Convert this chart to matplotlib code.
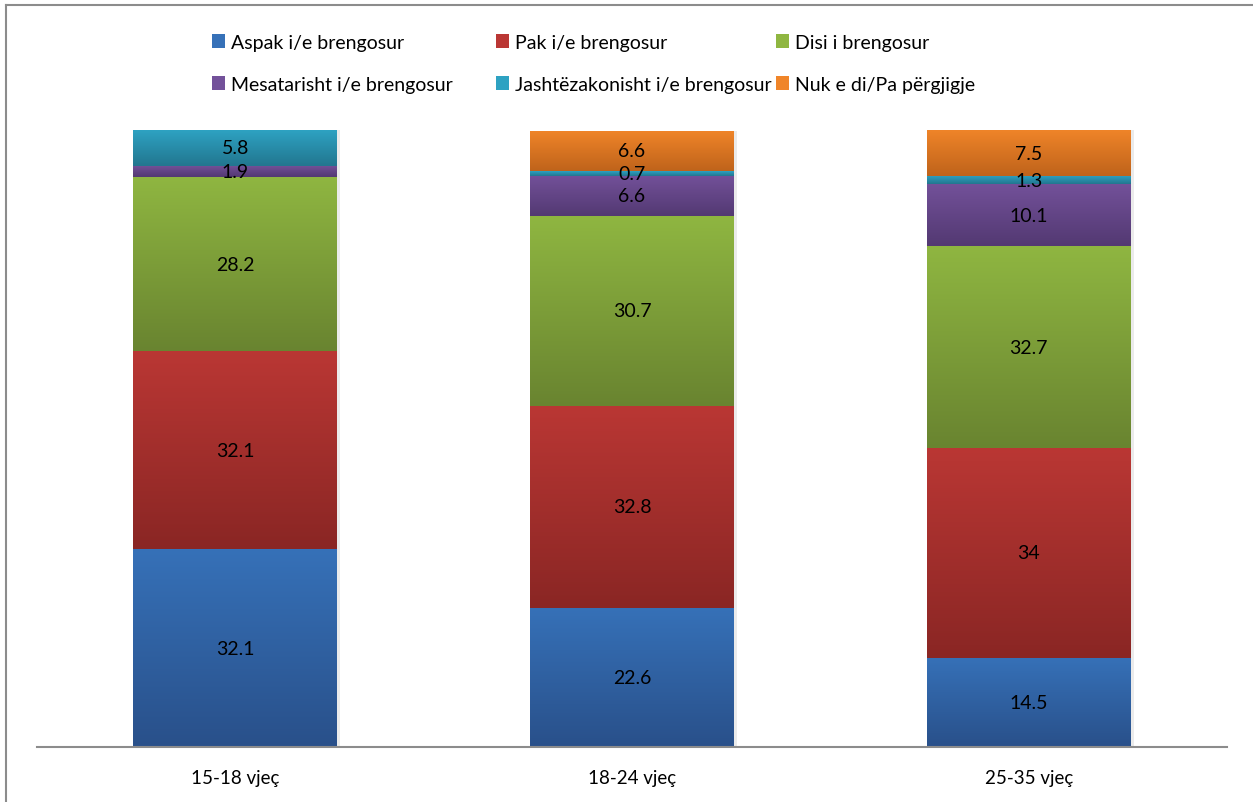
import numpy as np
import matplotlib
matplotlib.use("Agg")
import matplotlib.pyplot as plt
from matplotlib.colors import LinearSegmentedColormap
from matplotlib.lines import Line2D
from matplotlib.patches import Patch

plt.rcParams['font.family'] = ['Lato', 'DejaVu Sans']

categories = ["15-18 vjeç", "18-24 vjeç", "25-35 vjeç"]
series_names = ["Aspak i/e brengosur", "Pak i/e brengosur", "Disi i brengosur",
                "Mesatarisht i/e brengosur", "Jashtëzakonisht i/e brengosur",
                "Nuk e di/Pa përgjigje"]
aspak = [32.1, 22.6, 14.5]
pak = [32.1, 32.8, 34.0]
disi = [28.2, 30.7, 32.7]
mesatarisht = [1.9, 6.6, 10.1]
jashtezakonisht = [5.8, 0.7, 1.3]
nuk_e_di = [0.0, 6.6, 7.5]
series = [aspak, pak, disi, mesatarisht, jashtezakonisht, nuk_e_di]

# (top colour, bottom colour) for gradient fills
grad = [("#3671b8", "#29508a"),
        ("#ba3734", "#8a2624"),
        ("#8fb641", "#698430"),
        ("#73519a", "#533972"),
        ("#2ea2c2", "#22768f"),
        ("#f08529", "#bf631b")]

W, H = 1253, 803
fig = plt.figure(figsize=(W/100, H/100), dpi=100)
ax = fig.add_axes([37/W, (H-748)/H, 1190/W, (748-131)/H])

x = np.arange(len(categories))
bw = 0.514
bottom = np.zeros(len(categories))
grad_img = np.linspace(1, 0, 256).reshape(-1, 1)
for vals, name, (ctop, cbot) in zip(series, series_names, grad):
    vals = np.array(vals, dtype=float)
    bars = ax.bar(x, vals, bw, bottom=bottom, color=ctop, edgecolor='none',
                  label=name, zorder=2)
    cmap = LinearSegmentedColormap.from_list("g", [cbot, ctop])
    for b, v in zip(bars, vals):
        if v <= 0:
            continue
        x0, y0 = b.get_x(), b.get_y()
        im = ax.imshow(grad_img, cmap=cmap, vmin=0, vmax=1, aspect='auto',
                       extent=[x0, x0 + b.get_width(), y0, y0 + b.get_height()],
                       zorder=3, interpolation='bilinear')
        im.set_clip_path(b)
        ax.text(x0 + b.get_width()/2, y0 + v/2, f"{v:g}", ha='center', va='center',
                fontsize=14, color='black', zorder=5)
    bottom += vals

# subtle shadow behind full bars
ax.bar(x + 0.008, bottom, bw, bottom=0, color='#000000', alpha=0.08, zorder=1,
       edgecolor='none')

ax.set_xlim(-0.5, 2.5)
ax.set_ylim(0, 100.1)
ax.set_xticks(x)
ax.set_xticklabels(categories, fontsize=13.5)
ax.tick_params(axis='x', length=0, pad=16)
ax.set_yticks([])
for s in ['left', 'right', 'top']:
    ax.spines[s].set_visible(False)
ax.spines['bottom'].set_color('#8c8c8c')
ax.spines['bottom'].set_linewidth(1.5)
ax.spines['bottom'].set_zorder(6)

# legend: three fixed-position columns, two rows each (row-major order)
col_x = [204, 488, 768]
for c in range(3):
    idx = [c, c + 3]
    handles = [Patch(facecolor=grad[i][0], edgecolor='none') for i in idx]
    labels = [series_names[i] for i in idx]
    leg = fig.legend(handles, labels, loc='upper left',
                     bbox_to_anchor=(col_x[c]/W, 1 - 27/H), ncol=1, frameon=False,
                     fontsize=14, handlelength=0.7, handleheight=0.7,
                     handletextpad=0.3, labelspacing=1.3, borderaxespad=0,
                     borderpad=0.4)

# figure border (left and top edges visible)
fig.add_artist(Line2D([6/W, 6/W], [0, 1 - 6/H], color='#8c8c8c', lw=1.5,
                      transform=fig.transFigure))
fig.add_artist(Line2D([6/W, 1], [1 - 6/H, 1 - 6/H], color='#8c8c8c', lw=1.5,
                      transform=fig.transFigure))

fig.savefig("out.png", dpi=100)
